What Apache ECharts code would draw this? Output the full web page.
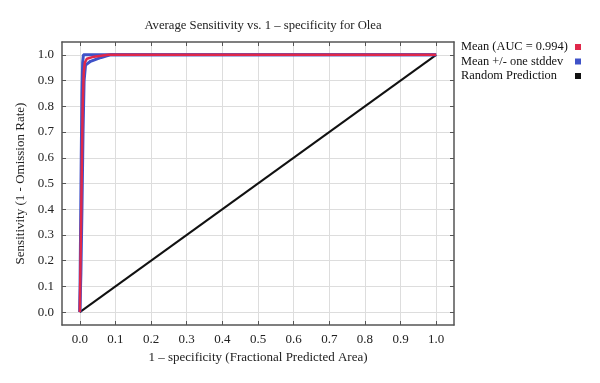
<!DOCTYPE html>
<html><head><meta charset="utf-8">
<script src="https://cdn.jsdelivr.net/npm/echarts@6/dist/echarts.min.js"></script>
<style>html,body{margin:0;padding:0;background:#fff}#c{width:600px;height:383px}</style>
</head><body><div id="c"></div>
<script>
const ticks = [0,0.1,0.2,0.3,0.4,0.5,0.6,0.7,0.8,0.9,1.0];
const meanCurve = [[0,0],[0.002,0.2],[0.004,0.4],[0.006,0.6],[0.008,0.8],[0.011,0.93],[0.014,0.97],[0.02,0.985],[0.04,0.993],[0.08,1.0],[1,1]];
const upperCurve = [[0,0],[0.002,0.3],[0.004,0.6],[0.006,0.85],[0.008,0.97],[0.01,1.0],[1,1]];
const lowerCurve = [[0,0],[0.003,0.15],[0.006,0.4],[0.009,0.7],[0.012,0.9],[0.016,0.96],[0.03,0.975],[0.06,0.99],[0.085,1.0],[1,1]];
const randomLine = [[0,0],[1,1]];
const legendNames = ['Mean (AUC = 0.994)','Mean +/- one stddev','Random Prediction'];

const font = 'Liberation Serif';
const chart = echarts.init(document.getElementById('c'));
const axisCommon = {
  type:'value', min:-0.05, max:1.05,
  axisLine:{show:true, onZero:false, lineStyle:{color:'#555', width:1.5}},
  axisTick:{show:true, inside:true, length:4, customValues:ticks, lineStyle:{color:'#555'}},
  splitLine:{show:true, lineStyle:{color:'#ddd', width:1}},
};
chart.setOption({
  animation:false,
  title:{text:'Average Sensitivity vs. 1 \u2013 specificity for Olea', left:258, top:14, textAlign:'center',
    textStyle:{fontFamily:font, fontSize:12.7, fontWeight:'normal', color:'#222'}},
  legend:{orient:'vertical', left:456, top:36, align:'right', itemGap:2.5, itemWidth:6, itemHeight:6, icon:'rect',
    data:legendNames,
    formatter:n=>'{a|'+n+'}',
    textStyle:{fontFamily:font, fontSize:12.4, color:'#111', rich:{a:{fontFamily:font, fontSize:12.4, color:'#111', width:109, align:'left', lineHeight:14.5}}}},
  grid:{left:62, right:146, top:42, bottom:58, show:false},
  xAxis:[Object.assign({}, axisCommon, {position:'bottom',
    name:'1 \u2013 specificity (Fractional Predicted Area)', nameLocation:'middle', nameGap:24,
    nameTextStyle:{fontFamily:font, fontSize:13, color:'#222'},
    axisLabel:{customValues:ticks, formatter:v=>v.toFixed(1), fontFamily:font, fontSize:13, color:'#222', margin:8}}),
    Object.assign({}, axisCommon, {position:'top', axisLabel:{show:false}, splitLine:{show:false}})],
  yAxis:[Object.assign({}, axisCommon, {position:'left',
    name:'Sensitivity (1 - Omission Rate)', nameLocation:'middle', nameGap:29,
    nameTextStyle:{fontFamily:font, fontSize:13, color:'#222'},
    axisLabel:{customValues:ticks, formatter:v=>v.toFixed(1), fontFamily:font, fontSize:13, color:'#222', margin:8}}),
    Object.assign({}, axisCommon, {position:'right', axisLabel:{show:false}, splitLine:{show:false}})],
  series:[
    {name:legendNames[2], type:'line', data:randomLine, showSymbol:false, lineStyle:{color:'#111', width:2}, itemStyle:{color:'#111'}, z:2},
    {name:legendNames[1], type:'line', data:upperCurve, showSymbol:false, lineStyle:{color:'#3f52c8', width:3}, itemStyle:{color:'#3f52c8'}, z:3},
    {name:legendNames[1], type:'line', data:lowerCurve, showSymbol:false, lineStyle:{color:'#3f52c8', width:3}, itemStyle:{color:'#3f52c8'}, z:3},
    {name:legendNames[0], type:'line', data:meanCurve, showSymbol:false, lineStyle:{color:'#e0284a', width:2.5}, itemStyle:{color:'#e0284a'}, z:4}
  ]
});
</script></body></html>
